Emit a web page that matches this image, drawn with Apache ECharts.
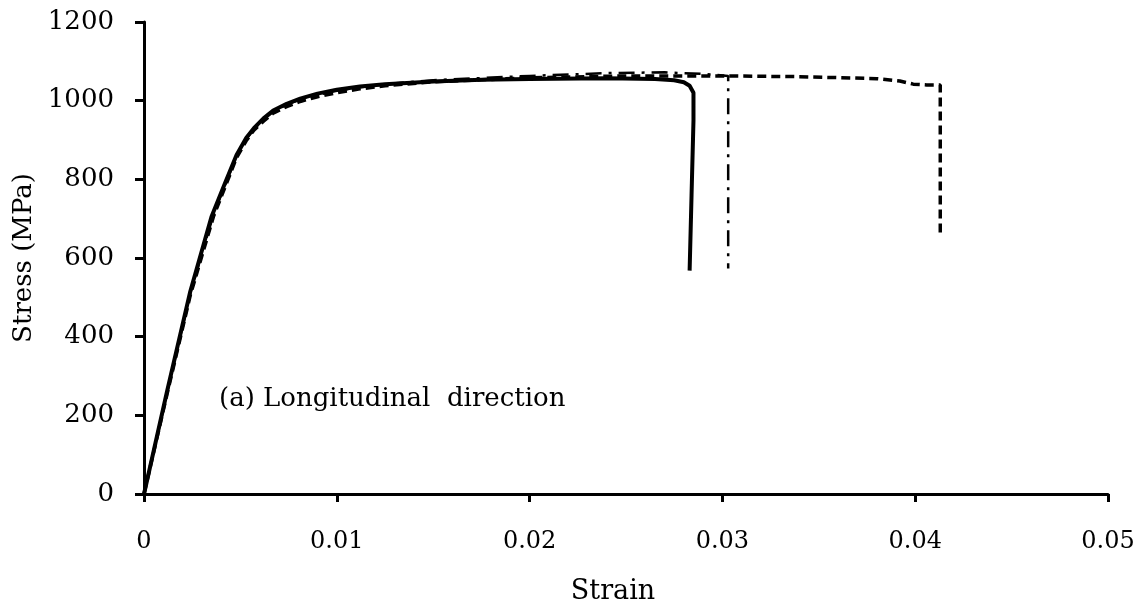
<!DOCTYPE html>
<html>
<head>
<meta charset="utf-8">
<script src="https://cdn.jsdelivr.net/npm/echarts@6/dist/echarts.min.js"></script>
<style>
html,body{margin:0;padding:0;background:#fff;}
#chart{width:1145px;height:606px;}
</style>
</head>
<body>
<div id="chart"></div>
<script>
// Strain / stress readings for the three specimens
var solidStrain = [0, 0.0012, 0.0024, 0.0035, 0.0042, 0.0048, 0.0053, 0.0057, 0.0062, 0.0067, 0.0074, 0.0081, 0.0090, 0.0100, 0.0112, 0.0125, 0.0150, 0.0175, 0.0200, 0.0240, 0.0265, 0.0275, 0.0280, 0.0283, 0.0285, 0.0285, 0.0284, 0.0283];
var solidStress = [0, 262, 515, 705, 790, 862, 905, 930, 955, 975, 992, 1005, 1018, 1028, 1036, 1042, 1049, 1053, 1055, 1057, 1055, 1052, 1047, 1038, 1020, 950, 760, 568];

var dashDotStrain = [0, 0.0012, 0.0024, 0.0036, 0.0048, 0.0053, 0.0057, 0.0062, 0.0067, 0.0074, 0.0081, 0.0090, 0.0100, 0.0112, 0.0125, 0.0150, 0.0200, 0.0240, 0.0270, 0.0290, 0.0303, 0.0303];
var dashDotStress = [0, 258, 510, 710, 860, 902, 928, 952, 972, 990, 1003, 1015, 1025, 1034, 1042, 1052, 1063, 1070, 1072, 1068, 1063, 573];

var dashedStrain = [0, 0.0012, 0.0024, 0.0036, 0.0048, 0.0053, 0.0057, 0.0062, 0.0067, 0.0074, 0.0081, 0.0090, 0.0100, 0.0112, 0.0125, 0.0150, 0.0200, 0.0250, 0.0300, 0.0340, 0.0380, 0.0392, 0.0399, 0.0406, 0.0413, 0.0413];
var dashedStress = [0, 255, 505, 705, 855, 898, 925, 948, 968, 985, 998, 1010, 1020, 1030, 1038, 1048, 1058, 1063, 1063, 1061, 1056, 1050, 1042, 1040, 1040, 655];

var xTicks = [0, 0.01, 0.02, 0.03, 0.04, 0.05];
var yTicks = [0, 200, 400, 600, 800, 1000, 1200];
var xTitle = 'Strain';
var yTitle = 'Stress (MPa)';
var annotation = '(a) Longitudinal  direction';

function pairs(xs, ys) {
  return xs.map(function (x, i) { return [x, ys[i]]; });
}

var FONT = '"DejaVu Serif", "Liberation Serif", serif';
var chart = echarts.init(document.getElementById('chart'));
chart.setOption({
  animation: false,
  backgroundColor: '#fff',
  grid: { left: 144, right: 37, top: 22, bottom: 112, containLabel: false, outerBoundsMode: 'none' },
  xAxis: {
    type: 'value',
    min: xTicks[0], max: xTicks[xTicks.length - 1], interval: 0.01,
    name: xTitle, nameLocation: 'middle', nameGap: 84,
    nameTextStyle: { fontFamily: FONT, fontSize: 27, color: '#000', padding: [0, 26, 0, 0] },
    axisLine: { lineStyle: { color: '#000', width: 3 } },
    axisTick: { show: true, length: 8, lineStyle: { color: '#000', width: 3 } },
    axisLabel: { fontFamily: FONT, fontSize: 24, color: '#000', margin: 36,
      formatter: function (v) { return String(+(+v).toFixed(2)); } },
    splitLine: { show: false }
  },
  yAxis: {
    type: 'value',
    min: yTicks[0], max: yTicks[yTicks.length - 1], interval: 200,
    name: yTitle, nameLocation: 'middle', nameGap: 90, nameRotate: 90,
    nameTextStyle: { fontFamily: FONT, fontSize: 26, color: '#000' },
    axisLine: { show: true, lineStyle: { color: '#000', width: 3 } },
    axisTick: { show: true, length: 9, lineStyle: { color: '#000', width: 3 } },
    axisLabel: { fontFamily: FONT, fontSize: 26, color: '#000', margin: 30,
      formatter: function (v) { return String(v); } },
    splitLine: { show: false }
  },
  graphic: [{
    type: 'text', left: 219, top: 386,
    style: { text: annotation, font: '26px ' + FONT, fill: '#000' }
  }],
  series: [
    { type: 'line', data: pairs(dashedStrain, dashedStress), showSymbol: false, smooth: false,
      lineStyle: { color: '#000', width: 3.5, type: [9, 5] }, z: 2 },
    { type: 'line', data: pairs(dashDotStrain, dashDotStress), showSymbol: false, smooth: false,
      lineStyle: { color: '#000', width: 2.5, type: [16, 7, 3, 7] }, z: 3 },
    { type: 'line', data: pairs(solidStrain, solidStress), showSymbol: false, smooth: false,
      lineStyle: { color: '#000', width: 4 }, z: 4 }
  ]
});
</script>
</body>
</html>
